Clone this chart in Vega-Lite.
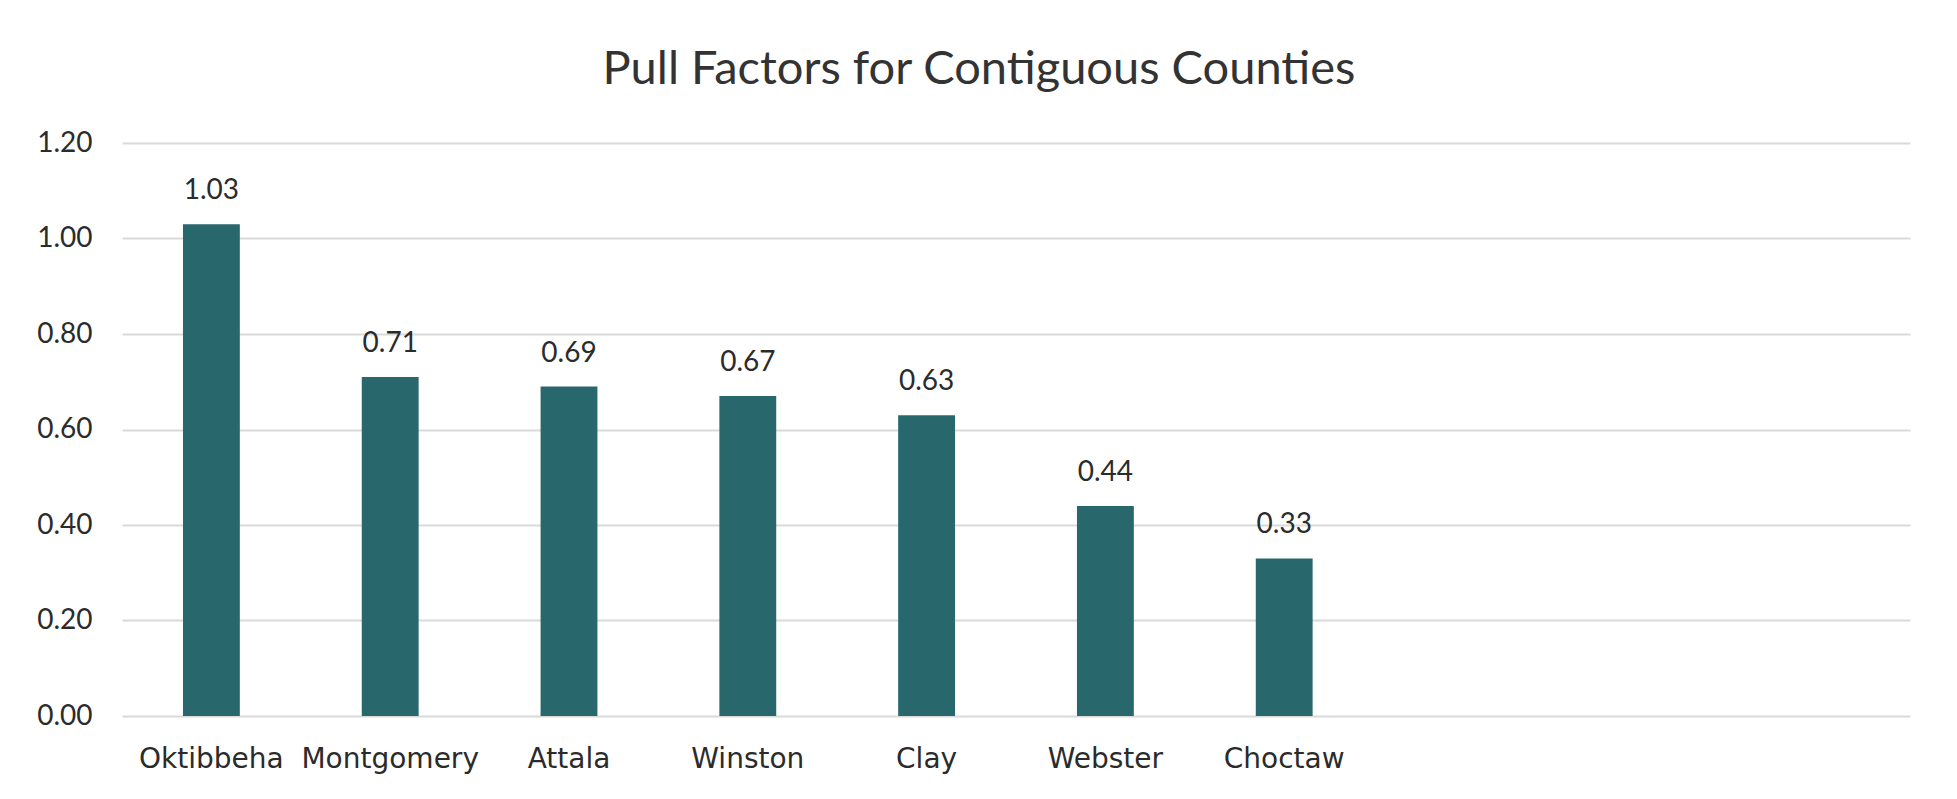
{
  "$schema": "https://vega.github.io/schema/vega-lite/v6.json",
  "width": 1788,
  "height": 573,
  "autosize": {"type": "none"},
  "padding": {"left": 122, "top": 143, "right": 47, "bottom": 83},
  "background": "white",
  "title": {
    "text": "Pull Factors for Contiguous Counties",
    "font": "Lato",
    "fontSize": 47,
    "fontWeight": "normal",
    "color": "#333333",
    "anchor": "middle",
    "dx": -37,
    "offset": 35
  },
  "data": {
    "values": [
      {"county": "Oktibbeha", "pull": 1.03},
      {"county": "Montgomery", "pull": 0.71},
      {"county": "Attala", "pull": 0.69},
      {"county": "Winston", "pull": 0.67},
      {"county": "Clay", "pull": 0.63},
      {"county": "Webster", "pull": 0.44},
      {"county": "Choctaw", "pull": 0.33}
    ]
  },
  "encoding": {
    "x": {
      "field": "county",
      "type": "nominal",
      "sort": null,
      "scale": {
        "domain": ["Oktibbeha", "Montgomery", "Attala", "Winston", "Clay", "Webster", "Choctaw", " ", "  ", "   "],
        "paddingInner": 0.682,
        "paddingOuter": 0.341
      },
      "axis": {
        "title": null,
        "labelAngle": 0,
        "domain": false,
        "ticks": false,
        "labelFont": "DejaVu Sans",
        "labelFontSize": 28,
        "labelColor": "#2b2b2b",
        "labelBaseline": "alphabetic",
        "labelPadding": 51
      }
    },
    "y": {
      "field": "pull",
      "type": "quantitative",
      "scale": {"domain": [0, 1.2], "nice": false},
      "axis": {
        "title": null,
        "values": [0, 0.2, 0.4, 0.6, 0.8, 1.0, 1.2],
        "format": ".2f",
        "domain": false,
        "ticks": false,
        "labelFont": "Lato",
        "labelFontSize": 28,
        "labelColor": "#2b2b2b",
        "labelPadding": 30,
        "gridColor": "#d9d9d9",
        "gridWidth": 2
      }
    }
  },
  "layer": [
    {"mark": {"type": "bar", "color": "#28686c"}},
    {
      "mark": {
        "type": "text",
        "font": "Lato",
        "fontSize": 28,
        "color": "#2b2b2b",
        "baseline": "alphabetic",
        "dy": -25
      },
      "encoding": {
        "text": {"field": "pull", "type": "quantitative", "format": ".2f"}
      }
    }
  ],
  "config": {
    "view": {"stroke": null}
  }
}
